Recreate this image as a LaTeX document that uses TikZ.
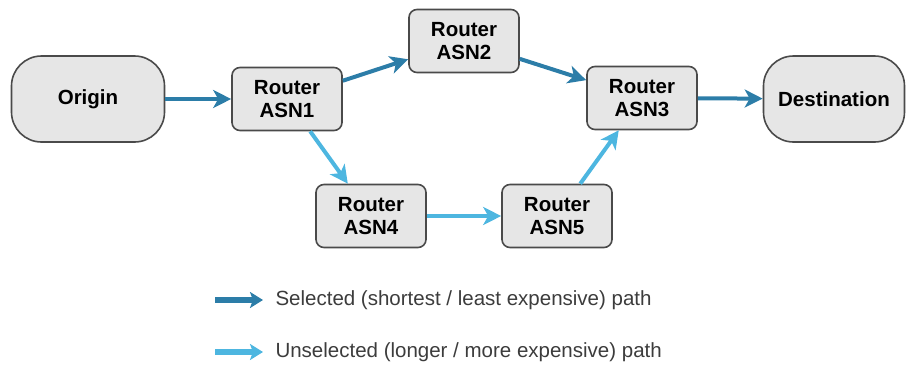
\documentclass[tikz,border=0pt]{standalone}
\usepackage{fontspec}
\setmainfont{Liberation Sans}
\usetikzlibrary{arrows.meta}

\definecolor{boxfill}{HTML}{E6E6E6}
\definecolor{boxline}{HTML}{4A4A4A}
\definecolor{pathsel}{HTML}{2C7DA8}
\definecolor{pathunsel}{HTML}{4DB6E0}
\definecolor{legendtext}{HTML}{3C3C3C}

\begin{document}
\begin{tikzpicture}[x=1pt, y=-1pt]
        \tikzstyle{router}  = [draw=boxline, line width=1.6pt, fill=boxfill, rounded corners=8pt,
                               minimum width=110pt, minimum height=63pt, align=center, inner sep=2pt,
                               font=\fontsize{20.5}{23.5}\selectfont\bfseries]
        \tikzstyle{endpoint} = [router, rounded corners=30pt, minimum height=86pt]
        \tikzstyle{selected} = [draw=pathsel, line width=4pt,
                               -{Stealth[length=18pt, width=18pt, inset=5pt]}]
        \tikzstyle{unselected} = [selected, draw=pathunsel]
        \tikzstyle{legendarrow} = [line width=6pt, -{Stealth[length=13pt, width=16pt, inset=3pt]}]
        \tikzstyle{legend} = [anchor=west, text=legendtext, font=\fontsize{20.5}{23}\selectfont]
        \useasboundingbox (0,0) rectangle (908,365);

                \node [endpoint, minimum width=153pt](origin) at (88, 99) {Origin};
                \node [endpoint, minimum width=141pt](dest) at (834, 99) {Destination};

                % routers: name / x / y
                \foreach \i/\x/\y in {1/287/99, 2/464/41, 3/642/98, 4/371/216, 5/557/216}
                {
                        \node [router](asn\i) at (\x, \y) {Router\\ASN\i};
                }

                \draw [selected] (origin) -- (asn1);
                \draw [selected] (asn1) -- (asn2);
                \draw [selected] (asn2) -- (asn3);
                \draw [selected] (asn3) -- (dest);

                \draw [unselected] (asn1) -- (asn4);
                \draw [unselected] (asn4) -- (asn5);
                \draw [unselected] (asn5) -- (asn3);

                % legend
                \coordinate (sel0) at (215, 300);
                \coordinate (sel1) at (263, 300);
                \coordinate (unsel0) at (215, 352);
                \coordinate (unsel1) at (263, 352);
                \draw [selected, legendarrow] (sel0) -- (sel1);
                \draw [unselected, legendarrow] (unsel0) -- (unsel1);
                \node [legend](seltext) at (272, 300) {Selected (shortest / least expensive) path};
                \node [legend](unseltext) at (272, 352) {Unselected (longer / more expensive) path};
\end{tikzpicture}
\end{document}
